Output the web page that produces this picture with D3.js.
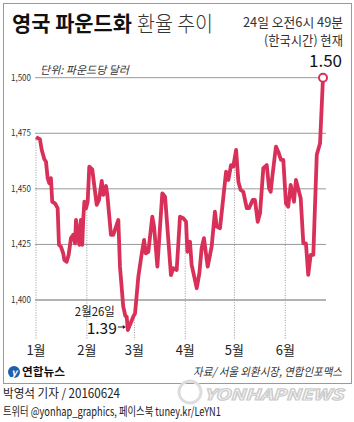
<!DOCTYPE html>
<html><head><meta charset="utf-8">
<script src="https://cdn.jsdelivr.net/npm/d3@7"></script>
<style>
body{margin:0;background:#fff;}
text{font-family:"Noto Sans CJK KR","Noto Sans",sans-serif;}
</style></head>
<body><svg id="c" width="354" height="422"></svg>
<script>
const dayOffsets = [0,2.4,3.5,5.1,6.1,7.1,8.1,9.1,9.9,11.6,13.2,14,15.2,16.6,17.3,18.7,19.9,21.3,22.7,23.8,24.4,25.8,26.4,27.4,28.2,28.8,29.5,30.5,31.5,32.5,34.3,37,38.4,40.1,41,42.7,43.5,45.7,47.1,50.2,51.2,53.2,54.5,55.3,56,59.3,60.4,62.4,64.5,65.9,66.9,68.5,70.9,72,74,77,78.7,82.3,83.7,85.8,87.8,89.8,91.5,92.3,93.9,94.9,98,99.6,101,102.4,104.7,107.1,109.1,110.2,112.2,115.9,117.3,118.9,120.3,122,123.4,124.8,126.4,128.5,129.9,132.1,133.5,135.2,136.6,138.6,140.7,142.1,143.1,144.1,146.3,147.7,149.4,150.8,152.4,153.8,155.3,157.3,158.5,161.4,163,164.6,166,167.5,169.1,171.2,173.2,175];
const rates = [1.4732,1.4723,1.4675,1.4633,1.4622,1.4548,1.4525,1.4548,1.4442,1.4435,1.4413,1.4248,1.424,1.421,1.418,1.4172,1.4203,1.4278,1.4293,1.4255,1.436,1.4285,1.4248,1.436,1.4248,1.436,1.4442,1.4413,1.4442,1.46,1.4588,1.4428,1.445,1.4536,1.4473,1.4513,1.4473,1.4293,1.4293,1.436,1.415,1.397,1.3928,1.3925,1.3865,1.3925,1.394,1.4105,1.421,1.427,1.421,1.4217,1.4375,1.433,1.415,1.448,1.4465,1.4112,1.4143,1.4135,1.4375,1.4368,1.4352,1.4217,1.4262,1.4158,1.4053,1.412,1.4233,1.4278,1.415,1.424,1.4397,1.433,1.4323,1.4577,1.454,1.4607,1.46,1.4675,1.4532,1.4495,1.4487,1.4413,1.4413,1.445,1.445,1.4352,1.439,1.4593,1.4607,1.4503,1.4487,1.4555,1.469,1.4667,1.463,1.463,1.4435,1.442,1.4518,1.4442,1.454,1.4458,1.4255,1.4255,1.4113,1.4203,1.4203,1.4653,1.4705,1.5];
const yTicks = [1.400,1.425,1.450,1.475,1.500];
const monthLabels = ["1월","2월","3월","4월","5월","6월"];
const monthStarts = ["2016-01-01","2016-02-01","2016-03-01","2016-04-01","2016-05-01","2016-06-01"];
const lowLabel = {date:"2월26일", value:"1.39", day:56};
const lastLabel = ["24일 오전6시 49분","(한국시간) 현재","1.50"];

const svg = d3.select("#c");
const start = new Date(2016,0,1);
const data = dayOffsets.map((d,i)=>({date:new Date(start.getTime()+d*864e5), v:rates[i]}));
const x = d3.scaleTime().domain([start, new Date(2016,5,24)]).range([36,323]);
const y = d3.scaleLinear().domain([1.4,1.5]).range([300,77.7]);
const RED = "#d9305a";

svg.append("rect").attr("x",3.5).attr("y",3.5).attr("width",348).attr("height",380)
  .attr("fill","none").attr("stroke","#9a9a9a").attr("stroke-width",1);

const fmt = v => d3.format(".3f")(v).replace(".",",");
svg.append("g").selectAll("line").data(yTicks).join("line")
  .attr("x1",35).attr("x2",326).attr("y1",d=>y(d)).attr("y2",d=>y(d))
  .attr("stroke",d=>d===1.4?"#666":"#999").attr("stroke-width",1);
svg.append("g").selectAll("text").data(yTicks).join("text")
  .attr("x",11).attr("y",d=>y(d)+3).attr("font-size",9).attr("fill","#333")
  .attr("textLength",20).attr("lengthAdjust","spacingAndGlyphs").text(fmt);

function valAt(dt){
  const bis = d3.bisector(d=>d.date).left;
  const i = bis(data, dt);
  if(i<=0) return data[0].v;
  if(i>=data.length) return data[data.length-1].v;
  const a=data[i-1], b=data[i];
  const t=(dt-a.date)/(b.date-a.date);
  return a.v+(b.v-a.v)*t;
}
const months = monthStarts.map(s=>d3.isoParse(s+"T00:00:00"));
svg.append("g").selectAll("line").data(months).join("line")
  .attr("x1",d=>x(d)).attr("x2",d=>x(d)).attr("y1",d=>y(valAt(d))).attr("y2",340)
  .attr("stroke","#999").attr("stroke-width",1).attr("stroke-dasharray","1,1.5");
svg.append("g").selectAll("text").data(months).join("text")
  .attr("x",d=>x(d)).attr("y",355).attr("text-anchor","middle").attr("font-size",13)
  .attr("fill","#222").text((d,i)=>monthLabels[i]);

svg.append("path").datum(data)
  .attr("d", d3.line().x(d=>x(d.date)).y(d=>y(d.v)))
  .attr("fill","none").attr("stroke",RED).attr("stroke-width",3.8).attr("stroke-linejoin","round");

const last = data[data.length-1];
svg.append("circle").attr("cx",x(last.date)).attr("cy",y(last.v)).attr("r",4)
  .attr("fill","#fff").attr("stroke",RED).attr("stroke-width",2);

const lowDate = new Date(start.getTime()+lowLabel.day*864e5);
const lx = x(lowDate), ly = y(valAt(lowDate));
svg.append("text").attr("x",lx-33).attr("y",316).attr("text-anchor","middle").attr("font-size",12).attr("fill","#222")
  .attr("textLength",40).attr("lengthAdjust","spacingAndGlyphs").text(lowLabel.date);
svg.append("text").attr("x",lx-11).attr("y",334).attr("text-anchor","end").attr("font-size",15.5).attr("fill","#111")
  .text(lowLabel.value);
svg.append("line").attr("x1",lx-10).attr("x2",lx-4).attr("y1",ly-3).attr("y2",ly-3).attr("stroke","#222").attr("stroke-width",1);
svg.append("path").attr("d",`M${lx-2},${ly-3}L${lx-5},${ly-5}L${lx-5},${ly-1}Z`).attr("fill","#222");

svg.append("text").attr("x",12).attr("y",31).attr("font-size",21).attr("font-weight","bold").attr("fill","#111")
  .attr("textLength",120).attr("lengthAdjust","spacingAndGlyphs").text("영국 파운드화");
svg.append("text").attr("x",137).attr("y",31).attr("font-size",21).attr("font-weight",300).attr("fill","#333")
  .attr("textLength",76).attr("lengthAdjust","spacingAndGlyphs").text("환율 추이");

svg.append("text").attr("x",343).attr("y",27).attr("text-anchor","end").attr("font-size",13).attr("fill","#333")
  .attr("textLength",100).attr("lengthAdjust","spacingAndGlyphs").text(lastLabel[0]);
svg.append("text").attr("x",343).attr("y",45).attr("text-anchor","end").attr("font-size",13).attr("fill","#333")
  .attr("textLength",79).attr("lengthAdjust","spacingAndGlyphs").text(lastLabel[1]);
svg.append("text").attr("x",342).attr("y",67).attr("text-anchor","end").attr("font-size",17).attr("fill","#111")
  .text(lastLabel[2]);

svg.append("text").attr("x",40).attr("y",74).attr("font-size",11).attr("font-style","italic").attr("fill","#333")
  .attr("textLength",89).attr("lengthAdjust","spacingAndGlyphs").text("단위: 파운드당 달러");

svg.append("circle").attr("cx",14).attr("cy",372).attr("r",6).attr("fill","#1b5fae");
svg.append("text").attr("x",14).attr("y",376).attr("text-anchor","middle").attr("font-size",10).attr("font-style","italic").attr("font-weight","bold").attr("fill","#fff").text("y");
svg.append("text").attr("x",22).attr("y",376).attr("font-size",11).attr("font-weight","bold").attr("fill","#111")
  .attr("textLength",43).attr("lengthAdjust","spacingAndGlyphs").text("연합뉴스");
svg.append("text").attr("x",342).attr("y",376).attr("text-anchor","end").attr("font-size",11.5).attr("font-style","italic").attr("fill","#333")
  .attr("textLength",149).attr("lengthAdjust","spacingAndGlyphs").text("자료/ 서울 외환시장, 연합인포맥스");

svg.append("circle").attr("cx",190).attr("cy",392).attr("r",11).attr("fill","none").attr("stroke","#ddd").attr("stroke-width",3);
svg.append("text").attr("x",204).attr("y",400).attr("font-size",15).attr("font-weight","bold").attr("font-style","italic")
  .attr("fill","#fff").attr("stroke","#ccc").attr("stroke-width",1.2)
  .attr("textLength",139).attr("lengthAdjust","spacingAndGlyphs").text("YONHAPNEWS");

svg.append("text").attr("x",3).attr("y",398).attr("font-size",12.5).attr("fill","#222")
  .attr("textLength",117).attr("lengthAdjust","spacingAndGlyphs").text("박영석 기자 / 20160624");
svg.append("text").attr("x",3).attr("y",416).attr("font-size",12).attr("fill","#222")
  .attr("textLength",218).attr("lengthAdjust","spacingAndGlyphs").text("트위터 @yonhap_graphics, 페이스북 tuney.kr/LeYN1");
</script></body></html>
